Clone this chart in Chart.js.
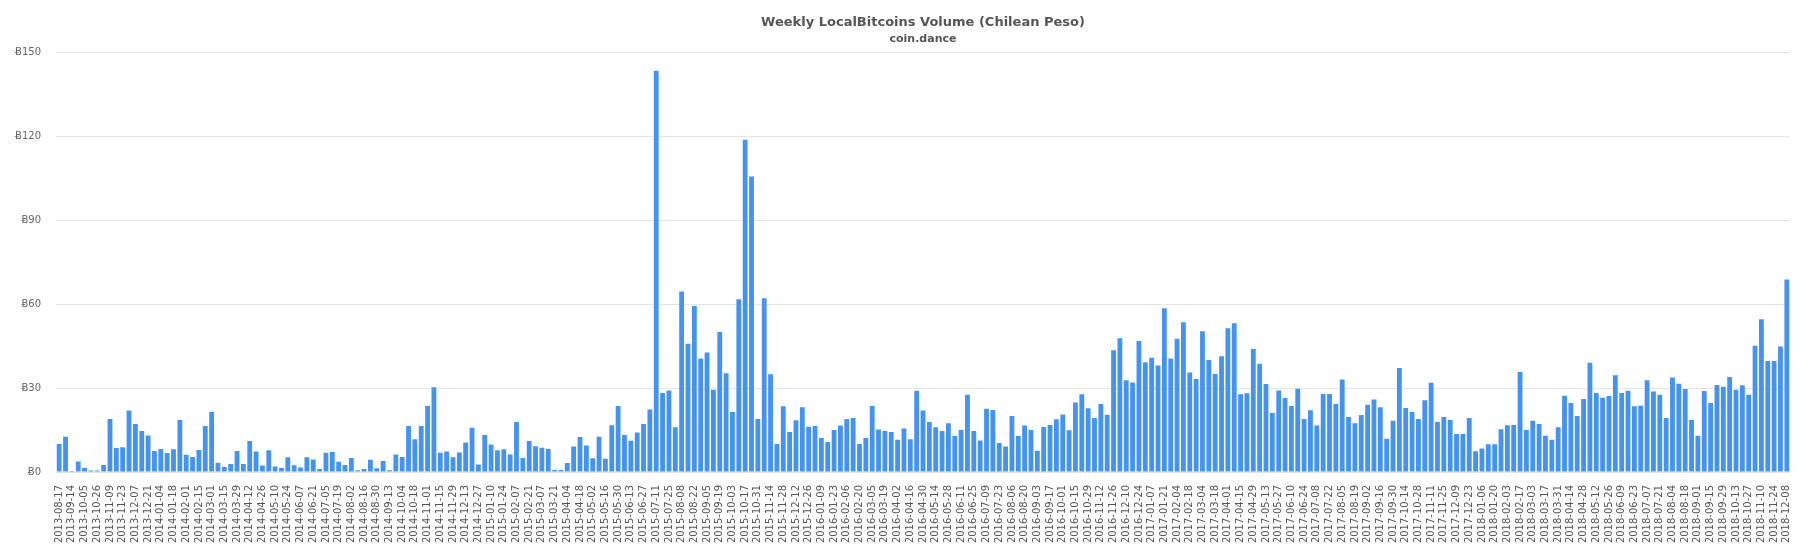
<!DOCTYPE html>
<html>
<head>
<meta charset="utf-8">
<title>Weekly LocalBitcoins Volume (Chilean Peso)</title>
<script src="https://cdn.jsdelivr.net/npm/chart.js@4/dist/chart.umd.min.js"></script>
<style>
  html, body { margin: 0; padding: 0; background: #fff; }
  #wrap { width: 1805px; height: 550px; }
</style>
</head>
<body>
<div id="wrap"><canvas id="volChart"></canvas></div>
<script>
// weekly buckets, first week and the weeks missing in the source data
const firstWeek = '2013-08-17';
const missingWeeks = ['2013-08-24', '2013-09-07', '2013-09-21', '2013-10-12', '2014-09-20'];
const lastWeek = '2018-12-08';

// volume in BTC per week
const volume = [
  10.0, 12.6, 0.4, 3.8, 1.4, 0.5, 0.5, 2.5, 19.0, 8.6,
  8.9, 22.0, 17.2, 14.7, 13.1, 7.5, 8.2, 6.8, 8.1, 18.6,
  6.2, 5.4, 7.9, 16.5, 21.5, 3.3, 1.8, 2.9, 7.5, 2.9,
  11.1, 7.3, 2.3, 7.8, 2.0, 1.4, 5.3, 2.4, 1.6, 5.3,
  4.5, 1.1, 6.9, 7.2, 3.7, 2.5, 5.0, 0.6, 1.1, 4.4,
  1.3, 3.9, 0.6, 6.3, 5.4, 16.5, 11.7, 16.5, 23.6, 30.3,
  6.9, 7.3, 5.3, 7.0, 10.6, 15.8, 2.7, 13.2, 9.8, 7.8,
  8.1, 6.3, 17.9, 5.0, 11.1, 9.2, 8.7, 8.2, 0.7, 0.7,
  3.2, 9.1, 12.5, 9.5, 4.9, 12.6, 4.7, 16.7, 23.6, 13.2,
  11.2, 14.1, 17.2, 22.4, 143.6, 28.3, 29.2, 16.0, 64.6, 45.9,
  59.4, 40.6, 42.8, 29.4, 50.1, 35.3, 21.5, 61.8, 118.9, 105.7,
  19.0, 62.2, 35.0, 10.0, 23.5, 14.3, 18.5, 23.2, 16.2, 16.5,
  12.2, 10.7, 15.0, 16.6, 19.0, 19.3, 10.0, 12.2, 23.6, 15.2,
  14.7, 14.3, 11.5, 15.6, 11.7, 29.1, 22.0, 17.9, 16.0, 14.7,
  17.4, 12.9, 15.0, 27.6, 14.7, 11.3, 22.6, 22.2, 10.4, 9.1,
  20.0, 12.9, 16.6, 15.0, 7.6, 16.1, 16.8, 18.9, 20.6, 14.9,
  24.9, 27.8, 22.8, 19.3, 24.3, 20.5, 43.6, 47.9, 32.8, 32.0,
  46.9, 39.3, 40.9, 38.1, 58.6, 40.6, 47.7, 53.6, 35.6, 33.3,
  50.4, 40.1, 35.1, 41.4, 51.4, 53.2, 27.8, 28.2, 44.0, 38.7,
  31.5, 21.1, 29.2, 26.5, 23.6, 29.8, 19.0, 22.1, 16.6, 27.9,
  27.9, 24.3, 33.1, 19.7, 17.4, 20.4, 24.1, 25.9, 23.2, 11.9,
  18.3, 37.2, 22.9, 21.5, 19.0, 25.7, 31.9, 17.9, 19.7, 18.6,
  13.6, 13.6, 19.3, 7.4, 8.4, 9.9, 9.9, 15.3, 16.7, 16.8,
  35.8, 15.0, 18.3, 17.2, 13.0, 11.5, 16.0, 27.3, 24.7, 20.0,
  26.1, 39.1, 28.3, 26.6, 27.2, 34.6, 28.3, 29.1, 23.5, 23.7,
  32.8, 28.8, 27.6, 19.3, 33.8, 31.6, 29.7, 18.6, 13.0, 29.0,
  24.7, 31.1, 30.5, 34.0, 29.4, 31.0, 27.6, 45.2, 54.7, 39.7,
  39.7, 44.9, 68.9
];

const yTicks = [0, 30, 60, 90, 120, 150];

// build the week labels
const weeks = [];
let d = new Date(firstWeek + 'T00:00:00Z');
const end = new Date(lastWeek + 'T00:00:00Z');
while (d <= end) {
  const s = d.toISOString().slice(0, 10);
  if (!missingWeeks.includes(s)) weeks.push(s);
  d = new Date(d.getTime() + 7 * 86400000);
}

const ctx = document.getElementById('volChart');

new Chart(ctx, {
  type: 'bar',
  data: {
    labels: weeks,
    datasets: [{
      label: 'Volume',
      data: volume,
      backgroundColor: '#4493f3',
      borderWidth: 0,
      categoryPercentage: 0.8,
      barPercentage: 0.95
    }]
  },
  options: {
    responsive: true,
    maintainAspectRatio: false,
    animation: false,
    devicePixelRatio: 1,
    layout: { padding: { left: 0, right: 15, top: 0, bottom: 0 } },
    plugins: {
      legend: { display: false },
      tooltip: { enabled: false },
      title: {
        display: true,
        text: 'Weekly LocalBitcoins Volume (Chilean Peso)',
        color: '#555',
        fullSize: false,
        font: { family: 'DejaVu Sans', size: 13, weight: 'bold' },
        padding: { top: 15, bottom: 0 }
      },
      subtitle: {
        display: true,
        text: 'coin.dance',
        color: '#555',
        fullSize: false,
        font: { family: 'DejaVu Sans', size: 11, weight: 'bold' },
        padding: { top: 2, bottom: 7 }
      }
    },
    scales: {
      x: {
        grid: { display: false },
        border: { display: false },
        ticks: {
          autoSkip: false,
          minRotation: 90,
          maxRotation: 90,
          padding: 5,
          color: '#555',
          font: { family: 'DejaVu Sans', size: 10 },
          callback: function (value, index) {
            return index % 2 === 0 ? weeks[index] : '';
          }
        },
        afterFit: s => { s.height = 78; }
      },
      y: {
        min: yTicks[0],
        max: yTicks[yTicks.length - 1],
        grid: { color: '#e6e6e6', drawTicks: false },
        border: { display: false },
        afterBuildTicks: s => { s.ticks = yTicks.map(v => ({ value: v })); },
        ticks: {
          padding: 15,
          color: '#666',
          font: { family: 'DejaVu Sans', size: 10 },
          callback: v => '\u0243' + v
        },
        afterFit: s => { s.width = 56; }
      }
    }
  }
});
</script>
</body>
</html>
